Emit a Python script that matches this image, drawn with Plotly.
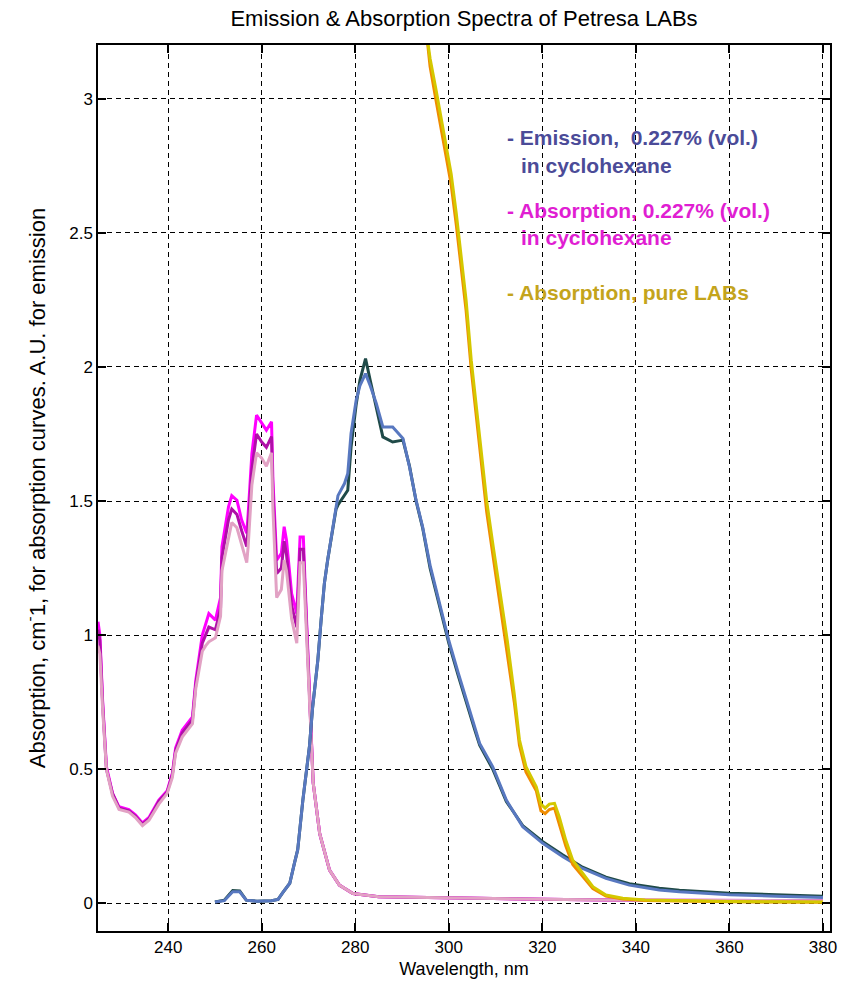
import plotly.graph_objects as go

# ---------------- data ----------------
# Absorption, 0.227% (vol.) in cyclohexane  (three measurements)
abs_mag_x = [225.0, 225.4, 226.0, 226.8, 228.1, 229.5, 231.6, 233.0, 234.5, 235.9, 238.0, 239.8,
             240.9, 241.6, 243.0, 245.2, 245.9, 247.3, 248.0, 248.7, 250.1, 251.2, 251.5, 252.9,
             253.6, 254.7, 255.7, 256.8, 257.1, 257.9, 258.9, 260.0, 261.0, 262.1, 262.4, 263.2,
             264.2, 264.8, 265.3, 266.4, 267.5, 268.2, 268.9, 269.3, 270.0, 270.5, 271.0, 272.4,
             274.5, 276.6, 279.5, 285.0, 300.0, 320.0, 340.0, 360.0, 380.0]
abs_mag_y = [1.05, 1.00, 0.75, 0.51, 0.41, 0.36, 0.35, 0.33, 0.30, 0.32, 0.385, 0.42,
             0.485, 0.58, 0.645, 0.695, 0.83, 1.00, 1.04, 1.08, 1.056, 1.14, 1.33, 1.478,
             1.52, 1.503, 1.43, 1.38, 1.45, 1.677, 1.82, 1.79, 1.764, 1.795, 1.578, 1.28,
             1.305, 1.404, 1.354, 1.155, 1.08, 1.366, 1.366, 1.18, 0.90, 0.66, 0.45, 0.26,
             0.124, 0.068, 0.037, 0.025, 0.02, 0.015, 0.012, 0.01, 0.01]
abs_dmag_y = [1.02, 0.98, 0.74, 0.50, 0.41, 0.355, 0.345, 0.325, 0.295, 0.315, 0.38, 0.415,
              0.48, 0.57, 0.635, 0.685, 0.815, 0.97, 1.0, 1.03, 1.02, 1.10, 1.29, 1.43,
              1.47, 1.45, 1.39, 1.33, 1.40, 1.62, 1.75, 1.72, 1.70, 1.74, 1.53, 1.23,
              1.25, 1.35, 1.30, 1.11, 1.03, 1.32, 1.32, 1.15, 0.885, 0.66, 0.45, 0.26,
              0.124, 0.068, 0.037, 0.025, 0.02, 0.015, 0.012, 0.01, 0.01]
abs_pink_y = [0.96, 0.93, 0.72, 0.50, 0.40, 0.35, 0.34, 0.32, 0.29, 0.31, 0.37, 0.41,
              0.47, 0.56, 0.62, 0.67, 0.80, 0.94, 0.96, 0.975, 0.99, 1.07, 1.24, 1.37,
              1.42, 1.40, 1.34, 1.27, 1.33, 1.56, 1.68, 1.66, 1.63, 1.68, 1.47, 1.14,
              1.17, 1.28, 1.24, 1.06, 0.97, 1.27, 1.27, 1.12, 0.87, 0.66, 0.45, 0.26,
              0.124, 0.068, 0.037, 0.025, 0.02, 0.015, 0.012, 0.01, 0.01]

# Emission, 0.227% (vol.) in cyclohexane (two measurements)
em_x = [250.0, 252.0, 253.8, 255.3, 256.7, 259.0, 262.1, 263.5, 264.5, 266.0, 267.0, 267.7,
        268.8, 270.2, 270.9, 272.0, 272.7, 273.4, 274.1, 275.2, 275.9, 276.3, 277.7, 278.4,
        279.1, 280.2, 281.0, 282.2, 283.2, 284.5, 285.9, 288.0, 290.2, 291.6, 293.0, 294.4,
        296.0, 298.0, 300.0, 302.0, 304.0, 305.5, 306.6, 309.4, 312.3, 315.8, 320.1, 324.4,
        328.6, 333.6, 338.6, 345.0, 349.3, 355.0, 360.0, 370.0, 380.0]
em_blue_y = [0.005, 0.01, 0.043, 0.043, 0.012, 0.008, 0.01, 0.015, 0.04, 0.075, 0.15, 0.20,
             0.385, 0.584, 0.733, 0.907, 1.056, 1.193, 1.28, 1.404, 1.49, 1.52, 1.565, 1.603,
             1.752, 1.876, 1.93, 1.975, 1.93, 1.864, 1.776, 1.776, 1.733, 1.627, 1.503, 1.404,
             1.26, 1.12, 0.98, 0.86, 0.74, 0.66, 0.596, 0.509, 0.385, 0.286, 0.224, 0.174,
             0.13, 0.093, 0.068, 0.05, 0.043, 0.037, 0.032, 0.027, 0.022]
em_dark_y = [0.005, 0.012, 0.048, 0.046, 0.012, 0.008, 0.01, 0.015, 0.04, 0.075, 0.15, 0.20,
             0.385, 0.584, 0.733, 0.907, 1.056, 1.193, 1.28, 1.40, 1.47, 1.485, 1.52, 1.54,
             1.70, 1.86, 1.95, 2.031, 1.95, 1.85, 1.739, 1.72, 1.727, 1.63, 1.50, 1.40,
             1.25, 1.11, 0.97, 0.85, 0.73, 0.65, 0.59, 0.50, 0.38, 0.29, 0.23, 0.18,
             0.135, 0.098, 0.073, 0.056, 0.049, 0.043, 0.038, 0.032, 0.027]

# Absorption, pure LABs (two measurements)
lab_x = [295.2, 296.0, 297.3, 298.7, 300.5, 301.6, 302.6, 303.7, 304.8, 305.9, 306.9, 308.1,
         309.5, 311.0, 312.5, 314.0, 315.1, 316.5, 318.7, 319.7, 320.6, 321.5, 322.6, 323.6,
         325.0, 326.5, 328.6, 330.8, 333.6, 337.2, 342.0, 349.3, 360.0, 370.0, 380.0]
lab_yel_y = [3.25, 3.15, 3.03, 2.894, 2.72, 2.572, 2.41, 2.249, 2.025, 1.851, 1.70, 1.50,
             1.33, 1.15, 0.98, 0.78, 0.61, 0.51, 0.435, 0.37, 0.355, 0.37, 0.373, 0.323,
             0.236, 0.161, 0.112, 0.062, 0.031, 0.019, 0.013, 0.01, 0.007, 0.006, 0.005]
lab_org_y = [3.25, 3.12, 2.99, 2.85, 2.68, 2.53, 2.37, 2.21, 1.99, 1.81, 1.66, 1.46,
             1.29, 1.11, 0.94, 0.75, 0.59, 0.49, 0.42, 0.345, 0.335, 0.35, 0.355, 0.30,
             0.215, 0.145, 0.10, 0.055, 0.027, 0.016, 0.011, 0.008, 0.006, 0.005, 0.004]

x_ticks = [240, 260, 280, 300, 320, 340, 360, 380]
y_ticks = [0, 0.5, 1, 1.5, 2, 2.5, 3]

legend_lines = [
    ("- Emission,  0.227% (vol.)", "in cyclohexane", "#4b4b98"),
    ("- Absorption, 0.227% (vol.)", "in cyclohexane", "#e01ed2"),
    ("- Absorption, pure LABs", "", "#c4a41c"),
]

# ---------------- figure ----------------
fig = go.Figure()
LW = 3
fig.add_trace(go.Scatter(x=abs_mag_x, y=abs_mag_y, mode="lines",
                         line=dict(color="#ff00ff", width=LW)))
fig.add_trace(go.Scatter(x=abs_mag_x, y=abs_dmag_y, mode="lines",
                         line=dict(color="#b010a8", width=LW)))
fig.add_trace(go.Scatter(x=abs_mag_x, y=abs_pink_y, mode="lines",
                         line=dict(color="#e2a2c4", width=LW)))
fig.add_trace(go.Scatter(x=em_x, y=em_dark_y, mode="lines",
                         line=dict(color="#1f4a48", width=LW)))
fig.add_trace(go.Scatter(x=em_x, y=em_blue_y, mode="lines",
                         line=dict(color="#5878c0", width=LW)))
fig.add_trace(go.Scatter(x=lab_x, y=lab_org_y, mode="lines",
                         line=dict(color="#f08c00", width=LW)))
fig.add_trace(go.Scatter(x=lab_x, y=lab_yel_y, mode="lines",
                         line=dict(color="#d4c800", width=LW)))

FONT = "Arial, Liberation Sans, sans-serif"

annos = []
ys = [(137, 165), (210, 237), (292, None)]
for (l1, l2, col), (y1, y2) in zip(legend_lines, ys):
    annos.append(dict(text="<b>" + l1 + "</b>", xref="paper", yref="paper",
                      x=(505 - 98) / 732, y=1 - (y1 - 45) / 886,
                      xanchor="left", yanchor="middle", showarrow=False,
                      font=dict(family=FONT, size=21, color=col)))
    if l2:
        annos.append(dict(text="<b>" + l2 + "</b>", xref="paper", yref="paper",
                          x=(519 - 98) / 732, y=1 - (y2 - 45) / 886,
                          xanchor="left", yanchor="middle", showarrow=False,
                          font=dict(family=FONT, size=21, color=col)))

axis_common = dict(showline=True, linecolor="black", linewidth=1.5, mirror="ticks",
                   ticks="inside", ticklen=8, tickcolor="black", tickwidth=1.5,
                   showgrid=True, gridcolor="black", gridwidth=1, griddash="5px,4px",
                   zeroline=False, tickfont=dict(family=FONT, size=17, color="black"))

fig.update_layout(
    width=862, height=994,
    margin=dict(l=98, r=32, t=45, b=63),
    paper_bgcolor="white", plot_bgcolor="white",
    showlegend=False,
    title=dict(text="Emission & Absorption Spectra of Petresa LABs",
               x=0.5, xref="paper", y=1 - 18 / 994, yref="container",
               xanchor="center", yanchor="middle",
               font=dict(family=FONT, size=22, color="black")),
    xaxis=dict(range=[225, 381.5], tickvals=x_ticks, **axis_common,
               title=dict(text="Wavelength, nm", standoff=6,
                          font=dict(family=FONT, size=18, color="black"))),
    yaxis=dict(range=[-0.103, 3.2], tickvals=y_ticks, ticktext=[str(v) for v in y_ticks],
               **axis_common,
               title=dict(text="Absorption, cm<sup>-</sup>1, for absorption curves. A.U. for emission",
                          standoff=18,
                          font=dict(family=FONT, size=22, color="black"))),
    annotations=annos,
)

fig.write_html("out.html")
